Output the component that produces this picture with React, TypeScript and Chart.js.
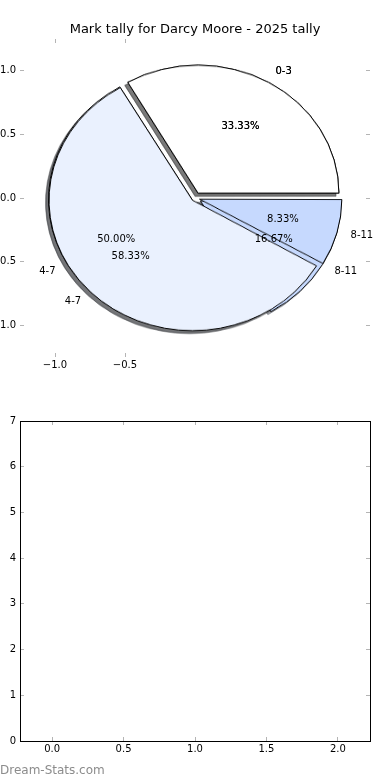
import React, { useEffect, useRef } from "react";
import { Chart, registerables } from "chart.js";

Chart.register(...registerables);

// ---- data ----
const categories = ["0-3", "4-7", "8-11"];
const tallyA = [4, 7, 1];
const tallyB = [4, 6, 2];
const sliceColors = ["#ffffff", "#eaf1fe", "#c6d9fe"];
const explode = [0.05, 0.05, 0.05];
const pieXTicks = [-1.0, -0.5];
const pieYTicks = [-1.0, -0.5, 0.0, 0.5, 1.0];
const pieRange = [-1.25, 1.25];
const barXTicks = [0.0, 0.5, 1.0, 1.5, 2.0];
const barYTicks = [0, 1, 2, 3, 4, 5, 6, 7];
const barXRange = [-0.225, 2.225];
const barYRange = [0, 7];
const titleText = "Mark tally for Darcy Moore - 2025 tally";
const watermark = "Dream-Stats.com";

const FONT = "'DejaVu Sans', 'Liberation Sans', sans-serif";
const TICK_GREY = "#b4b4b4";

const fmt1 = (v: number) => {
  const s = Math.abs(v).toFixed(1);
  return v < 0 ? "\u2212" + s : s;
};
const fmt0 = (v: number) => String(Math.round(v));

function axis(
  id: "x" | "y",
  position: string,
  range: number[],
  tickValues: number[],
  showLabels: boolean,
  fmt: (v: number) => string,
  border: boolean,
  size: number,
  padding: number
): any {
  return {
    type: "linear",
    axis: id,
    position,
    min: range[0],
    max: range[1],
    bounds: "data",
    afterBuildTicks: (s: any) => {
      s.ticks = tickValues.map((v) => ({ value: v }));
    },
    grid: {
      display: true,
      drawOnChartArea: false,
      drawTicks: true,
      tickLength: -4,
      tickColor: TICK_GREY,
      tickWidth: 1,
      color: TICK_GREY,
    },
    border: { display: border, color: "#000000", width: 1 },
    ticks: {
      display: showLabels,
      padding,
      color: "#000000",
      font: { family: FONT, size: 10 },
      autoSkip: false,
      maxRotation: 0,
      minRotation: 0,
      callback: (v: any) => fmt(Number(v)),
    },
    afterFit: (s: any) => {
      if (id === "x") s.height = size;
      else s.width = size;
    },
  };
}

const sum = (a: number[]) => a.reduce((p, c) => p + c, 0);

const pieLabelsPlugin = {
  id: "pieLabels",
  afterDatasetsDraw(chart: any) {
    const ctx = chart.ctx;
    const xs = chart.scales.x;
    const ys = chart.scales.y;
    ctx.save();
    ctx.font = `10px ${FONT}`;
    ctx.fillStyle = "#000000";
    ctx.textBaseline = "middle";
    for (const vals of [tallyB, tallyA]) {
      const total = sum(vals);
      let cum = 0;
      vals.forEach((v, i) => {
        const frac = v / total;
        const mid = 2 * Math.PI * (cum + frac / 2);
        cum += frac;
        const c = Math.cos(mid);
        const s = Math.sin(mid);
        const e = explode[i];
        const lx = (e + 1.1) * c;
        const ly = (e + 1.1) * s;
        ctx.textAlign = lx > 0 ? "left" : "right";
        ctx.fillText(categories[i], xs.getPixelForValue(lx), ys.getPixelForValue(ly));
        ctx.textAlign = "center";
        ctx.fillText(
          (frac * 100).toFixed(2) + "%",
          xs.getPixelForValue((e + 0.6) * c),
          ys.getPixelForValue((e + 0.6) * s)
        );
      });
    }
    ctx.restore();
  },
};

function shade(hex: string) {
  const r = parseInt(hex.slice(1, 3), 16);
  const g = parseInt(hex.slice(3, 5), 16);
  const b = parseInt(hex.slice(5, 7), 16);
  return `rgba(${Math.round(r * 0.3)},${Math.round(g * 0.3)},${Math.round(b * 0.3)},0.5)`;
}

function makePie(
  canvas: HTMLCanvasElement,
  vals: number[],
  shadow: boolean,
  cx: number,
  cy: number,
  ux: number,
  uy: number
) {
  const S = Math.ceil(ux * 2.5);
  const dx = shadow ? -0.02 * ux : 0;
  const dy = shadow ? 0.02 * uy : 0;
  canvas.width = S;
  canvas.height = S;
  canvas.style.cssText = `position:absolute;left:${cx - S / 2 + dx}px;top:${cy - S / 2 + dy}px;width:${S}px;height:${S}px;transform:scale(-1,${uy / ux});transform-origin:50% 50%;`;
  const total = sum(vals);
  const fills = shadow ? sliceColors.map(shade) : sliceColors;
  return new Chart(canvas, {
    type: "pie",
    data: {
      labels: categories,
      datasets: [
        {
          data: vals,
          backgroundColor: fills,
          borderColor: shadow ? fills : "#000000",
          borderWidth: 1,
          offset: (c: any) => {
            const circ = (vals[c.dataIndex] / total) * 2 * Math.PI;
            const fix = 1 - Math.sin(Math.min(Math.PI, circ));
            return (4 * explode[c.dataIndex] * ux) / (1 + fix);
          },
        } as any,
      ],
    },
    options: {
      animation: false,
      responsive: false,
      rotation: -90,
      radius: ux,
      layout: { padding: 0 },
      events: [],
      plugins: { legend: { display: false }, tooltip: { enabled: false }, title: { display: false } },
    } as any,
  });
}

export default function App() {
  const axesRef = useRef<HTMLCanvasElement>(null);
  const shadowBRef = useRef<HTMLCanvasElement>(null);
  const shadowARef = useRef<HTMLCanvasElement>(null);
  const pieBRef = useRef<HTMLCanvasElement>(null);
  const pieARef = useRef<HTMLCanvasElement>(null);
  const barRef = useRef<HTMLCanvasElement>(null);

  useEffect(() => {
    const charts: Chart[] = [];
    const axes = new Chart(axesRef.current!, {
      type: "scatter",
      data: { datasets: [{ data: [] }] },
      options: {
        animation: false,
        responsive: false,
        events: [],
        layout: { padding: 0 },
        plugins: {
          legend: { display: false },
          tooltip: { enabled: false },
          title: {
            display: true,
            text: titleText,
            color: "#000000",
            font: { family: FONT, size: 13, weight: "normal" },
            padding: { top: 22, bottom: 0 },
          },
        },
        scales: {
          x: axis("x", "bottom", pieRange, pieXTicks, true, fmt1, false, 33, 6),
          x2: axis("x", "top", pieRange, pieXTicks, false, fmt1, false, 1.4, 6),
          y: axis("y", "left", pieRange, pieYTicks, true, fmt1, false, 20, 8),
          y2: axis("y", "right", pieRange, pieYTicks, false, fmt1, false, 20, 8),
        },
      } as any,
      plugins: [pieLabelsPlugin],
    });
    charts.push(axes);

    const xs: any = axes.scales.x;
    const ys: any = axes.scales.y;
    const cx = xs.getPixelForValue(0);
    const cy = ys.getPixelForValue(0);
    const ux = xs.getPixelForValue(1) - cx;
    const uy = cy - ys.getPixelForValue(1);

    charts.push(makePie(shadowBRef.current!, tallyB, true, cx, cy, ux, uy));
    charts.push(makePie(shadowARef.current!, tallyA, true, cx, cy, ux, uy));
    charts.push(makePie(pieBRef.current!, tallyB, false, cx, cy, ux, uy));
    charts.push(makePie(pieARef.current!, tallyA, false, cx, cy, ux, uy));

    const bar = new Chart(barRef.current!, {
      type: "scatter",
      data: { datasets: [{ data: [] }] },
      options: {
        animation: false,
        responsive: false,
        events: [],
        layout: { padding: 0 },
        plugins: { legend: { display: false }, tooltip: { enabled: false } },
        scales: {
          x: axis("x", "bottom", barXRange, barXTicks, true, fmt1, true, 39, 6),
          x2: axis("x", "top", barXRange, barXTicks, false, fmt1, true, 31, 6),
          y: axis("y", "left", barYRange, barYTicks, true, fmt0, true, 20, 8),
          y2: axis("y", "right", barYRange, barYTicks, false, fmt0, true, 20, 8),
        },
      } as any,
    });
    charts.push(bar);

    return () => charts.forEach((c) => c.destroy());
  }, []);

  return (
    <div
      style={{
        position: "absolute",
        left: 0,
        top: 0,
        width: 390,
        height: 780,
        overflow: "hidden",
        background: "#ffffff",
      }}
    >
      <canvas ref={shadowBRef} />
      <canvas ref={shadowARef} />
      <canvas ref={pieBRef} />
      <canvas ref={pieARef} />
      <canvas
        ref={axesRef}
        width={390}
        height={390}
        style={{ position: "absolute", left: 0, top: 0, width: 390, height: 390 }}
      />
      <canvas
        ref={barRef}
        width={390}
        height={390}
        style={{ position: "absolute", left: 0, top: 390, width: 390, height: 390 }}
      />
      <div
        style={{
          position: "absolute",
          left: 0,
          top: 764,
          font: `12px ${FONT}`,
          lineHeight: "12px",
          color: "#8c8c8c",
          whiteSpace: "nowrap",
        }}
      >
        {watermark}
      </div>
    </div>
  );
}
